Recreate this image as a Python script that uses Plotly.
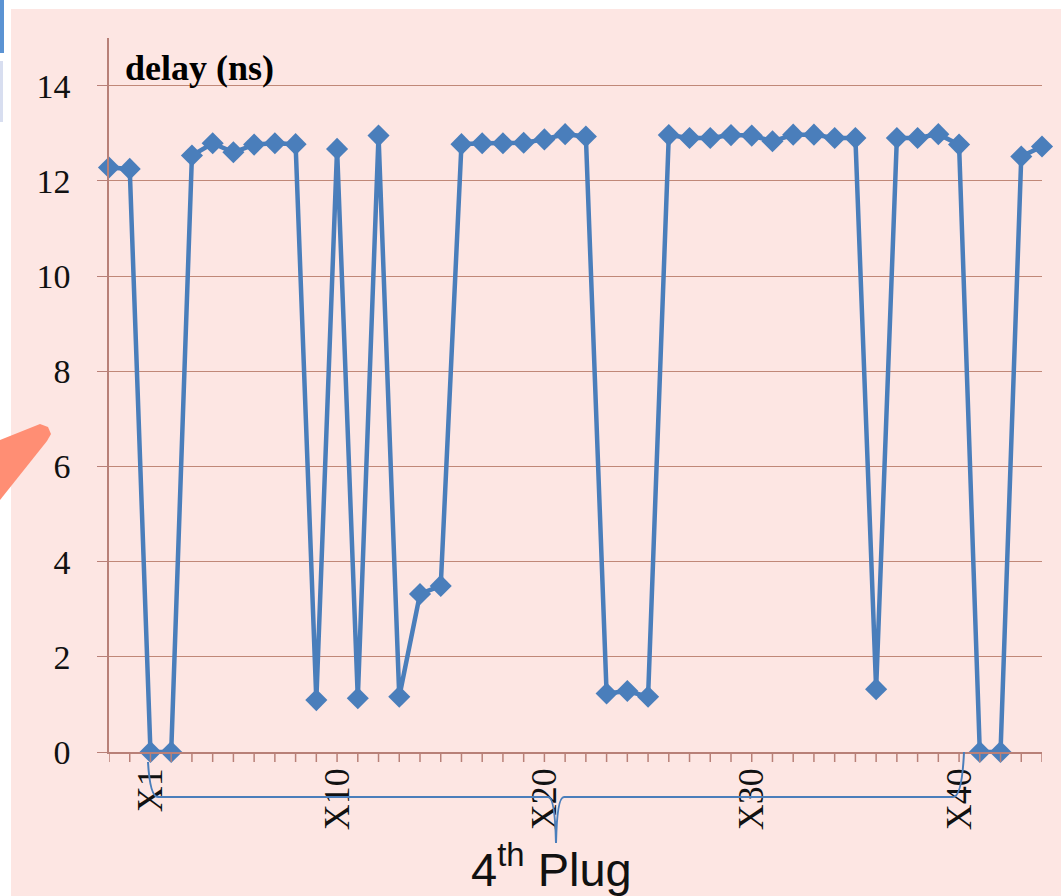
import plotly.graph_objects as go

# ---------------- data ----------------
categories = [f"X{i}" for i in range(-1, 45)]
delay_ns = [12.28, 12.25, 0.0, 0.0, 12.53, 12.79, 12.60, 12.76, 12.79, 12.77,
            1.09, 12.67, 1.13, 12.95, 1.16, 3.32, 3.49, 12.77, 12.79, 12.79,
            12.80, 12.87, 12.98, 12.93, 1.23, 1.28, 1.16, 12.96, 12.90, 12.90,
            12.96, 12.95, 12.83, 12.97, 12.97, 12.90, 12.90, 1.32, 12.90, 12.90,
            12.98, 12.76, 0.0, 0.0, 12.51, 12.72]
shown_labels = ["X1", "X10", "X20", "X30", "X40"]
y_ticks = [0, 2, 4, 6, 8, 10, 12, 14]

W, H = 1061, 896
L, R, T, B = 109, 1042, 38, 752   # plot area in pixels

def px(x):
    return (x - L) / (R - L)
def py(y):
    return (B - y) / (B - T)

LINE = "#4A7EBB"
AXC = "#B88078"
SERIF = "Liberation Serif"

fig = go.Figure()
fig.add_trace(go.Scatter(
    x=categories, y=delay_ns, mode="lines+markers",
    line=dict(color=LINE, width=4.5),
    marker=dict(symbol="diamond", size=17, color=LINE),
    cliponaxis=False, showlegend=False,
))

fig.update_layout(
    width=W, height=H, autosize=False,
    margin=dict(l=L, r=W - R, t=T, b=H - B, pad=0, autoexpand=False),
    paper_bgcolor="#FFFFFF",
    plot_bgcolor="#FCD5CF",
    xaxis=dict(
        type="category",
        range=[0, len(categories) - 1],
        tickmode="array", tickvals=shown_labels, ticktext=shown_labels,
        tickangle=-90, ticks="", ticklen=0,
        tickfont=dict(family=SERIF, size=36, color="#111111"),
        showgrid=False, showline=True, linecolor=AXC, linewidth=1.5,
        zeroline=False, ticklabelstandoff=0,
    ),
    yaxis=dict(
        range=[0, 15],
        tickmode="array", tickvals=y_ticks,
        ticks="outside", ticklen=10, tickcolor=AXC,
        tickfont=dict(family=SERIF, size=34, color="#111111"),
        showgrid=True, gridcolor="#C08878", gridwidth=1,
        showline=True, linecolor=AXC, linewidth=1.5,
        zeroline=False, ticklabelstandoff=20,
    ),
)

shapes = []
# x-axis tick marks at every category
for c in categories:
    shapes.append(dict(type="line", xref="x", yref="paper", x0=c, x1=c,
                       y0=py(B), y1=py(B + 10),
                       line=dict(color=AXC, width=1.5), layer="above"))
# slide background region
shapes.append(dict(type="rect", xref="paper", yref="paper",
                   x0=px(11), x1=px(W), y0=py(H), y1=py(9),
                   fillcolor="#FDE6E3", line=dict(width=0), layer="below"))
# left-edge slide fragments
shapes.append(dict(type="rect", xref="paper", yref="paper",
                   x0=px(0), x1=px(4), y0=py(53), y1=py(0),
                   fillcolor="#5B93D3", line=dict(width=0), layer="below"))
shapes.append(dict(type="rect", xref="paper", yref="paper",
                   x0=px(0), x1=px(3), y0=py(122), y1=py(61),
                   fillcolor="#D8DEF0", line=dict(width=0), layer="below"))
# orange arrow fragment at the left edge
arrow = [(0, 440), (40, 424), (48, 427), (51, 434), (47, 441), (0, 500)]
path = "M " + " L ".join(f"{px(a)},{py(b)}" for a, b in arrow) + " Z"
shapes.append(dict(type="path", xref="paper", yref="paper", path=path,
                   fillcolor="#FF8E74", line=dict(width=0), layer="above"))
# brace under the axis labels
pts = ("M {a},{b} Q {c},{d} {e},{d} L {f},{d} Q {g},{d} {h},{i} "
       "Q {j},{d} {k},{d} L {l},{d} Q {m},{d} {n},{o}").format(
    a=px(148), b=py(762), c=px(150), d=py(797), e=px(158),
    f=px(548), g=px(555), h=px(556), i=py(843), j=px(557), k=px(564),
    l=px(953), m=px(962), n=px(964), o=py(752))
shapes.append(dict(type="path", xref="paper", yref="paper", path=pts,
                   line=dict(color=LINE, width=2), layer="above"))
fig.update_layout(shapes=shapes)

fig.add_annotation(x=px(123), y=py(68), xref="paper", yref="paper",
                   text="<b>delay (ns)</b>", showarrow=False,
                   xanchor="left", yanchor="middle",
                   font=dict(family=SERIF, size=36, color="#000000"))
fig.add_annotation(x=px(551), y=py(866), xref="paper", yref="paper",
                   text="4<sup>th</sup> Plug", showarrow=False,
                   xanchor="center", yanchor="middle",
                   font=dict(family="Liberation Sans", size=47, color="#111111"))

fig.write_html("out.html")
